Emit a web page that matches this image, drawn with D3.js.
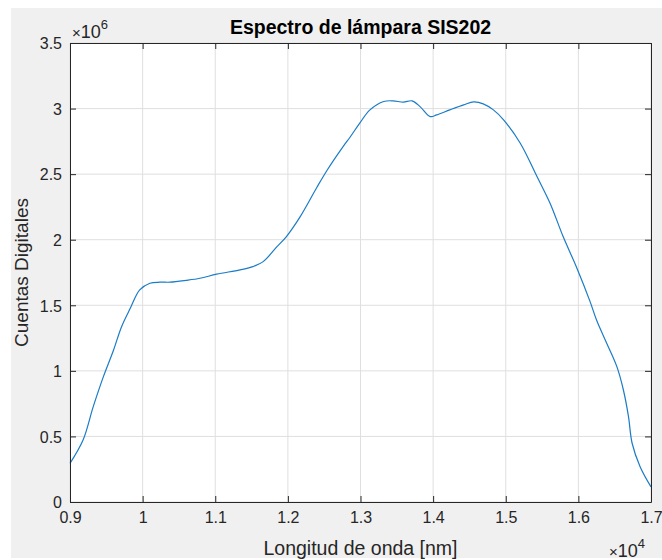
<!DOCTYPE html>
<html>
<head>
<meta charset="utf-8">
<script src="https://cdn.jsdelivr.net/npm/d3@7"></script>
<style>
  body { margin: 0; background: #fff; }
  text { font-family: "Liberation Sans", Arial, sans-serif; }
</style>
</head>
<body>
<svg id="chart" width="662" height="560"></svg>
<script>
// longitud de onda (nm) y cuentas
var wavelength = [9000, 9180, 9320, 9460, 9600, 9710, 9830, 9960, 10100, 10240, 10380, 10600, 10790, 11020,
  11340, 11520, 11660, 11850, 11980, 12170, 12400, 12540, 12760, 12860, 12990, 13130, 13320, 13450,
  13590, 13710, 13820, 13960, 14050, 14230, 14420, 14560, 14690, 14830, 14970, 15200, 15430, 15610,
  15790, 15980, 16160, 16250, 16390, 16530, 16620, 16690, 16740, 16850, 17000];
var counts = [295000, 473000, 727000, 956000, 1159000, 1337000, 1477000, 1617000, 1668000, 1676000, 1676000,
  1690000, 1706000, 1737000, 1770000, 1795000, 1833000, 1947000, 2024000, 2176000, 2400000, 2530000,
  2710000, 2785000, 2889000, 2990000, 3054000, 3059000, 3049000, 3059000, 3015000, 2939000, 2952000,
  2990000, 3028000, 3051000, 3036000, 2990000, 2914000, 2736000, 2482000, 2278000, 2024000, 1783000,
  1530000, 1388000, 1211000, 1032000, 854000, 651000, 448000, 269000, 115000];
var xTicks = [9000, 10000, 11000, 12000, 13000, 14000, 15000, 16000, 17000];
var yTicks = [0, 500000, 1000000, 1500000, 2000000, 2500000, 3000000, 3500000];

var svg = d3.select("#chart"),
    margin = {top: 43, right: 11, bottom: 58, left: 70},
    width = 662 - margin.left - margin.right,
    height = 560 - margin.top - margin.bottom;

// fondo gris de la figura
svg.append("rect").attr("x", 11).attr("y", 8).attr("width", 651).attr("height", 550).attr("fill", "#f0f0f0");

var x = d3.scaleLinear().domain([9000, 17000]).range([0, width]),
    y = d3.scaleLinear().domain([0, 3500000]).range([height, 0]);

var g = svg.append("g").attr("transform", "translate(" + margin.left + "," + margin.top + ")");

g.append("rect").attr("width", width).attr("height", height).attr("fill", "#fff");

// grid
g.append("g").selectAll("line").data(xTicks).enter().append("line")
  .attr("x1", function(d) { return x(d); }).attr("x2", function(d) { return x(d); })
  .attr("y1", 0).attr("y2", height).attr("stroke", "#dfdfdf");
g.append("g").selectAll("line").data(yTicks).enter().append("line")
  .attr("y1", function(d) { return y(d); }).attr("y2", function(d) { return y(d); })
  .attr("x1", 0).attr("x2", width).attr("stroke", "#dfdfdf");

var data = wavelength.map(function(w, i) { return {w: w, c: counts[i]}; });

var line = d3.line()
  .x(function(d) { return x(d.w); })
  .y(function(d) { return y(d.c); })
  .curve(d3.curveCatmullRom.alpha(0.5));

g.append("path").datum(data)
  .attr("fill", "none").attr("stroke", "#1a7cc6").attr("stroke-width", 1.2)
  .attr("d", line);

// ejes
var axisColor = "#262626";
var xa = g.append("g").attr("transform", "translate(0," + height + ")")
  .call(d3.axisBottom(x).tickValues(xTicks).tickSizeInner(-6).tickSizeOuter(0).tickPadding(14)
    .tickFormat(function(d) { return d3.format("")(+(d / 10000).toFixed(1)); }));
var ya = g.append("g")
  .call(d3.axisLeft(y).tickValues(yTicks).tickSizeInner(-6).tickSizeOuter(0).tickPadding(14)
    .tickFormat(function(d) { return d3.format("")(+(d / 1000000).toFixed(1)); }));
var xt = g.append("g")
  .call(d3.axisTop(x).tickValues(xTicks).tickSizeInner(-6).tickSizeOuter(0).tickFormat(""));
var yr = g.append("g").attr("transform", "translate(" + width + ",0)")
  .call(d3.axisRight(y).tickValues(yTicks).tickSizeInner(-6).tickSizeOuter(0).tickFormat(""));

[xa, ya, xt, yr].forEach(function(a) {
  a.selectAll("path, line").attr("stroke", axisColor);
  a.selectAll("text").attr("fill", axisColor).style("font-size", "16px")
    .style("font-family", "'Liberation Sans', Arial, sans-serif");
});
ya.selectAll("text").attr("dy", "0.36em").attr("x", -8);
xa.selectAll("text").attr("dy", "0.71em").attr("y", 10);

// multiplicadores
var m6 = svg.append("text").attr("x", 72).attr("y", 38).attr("fill", axisColor).style("font-size", "18px");
m6.append("tspan").style("font-size", "15px").text("\u00d7");
m6.append("tspan").text("10");
m6.append("tspan").attr("dy", -9).style("font-size", "13px").text("6");

var m4 = svg.append("text").attr("x", 609).attr("y", 557).attr("fill", axisColor).style("font-size", "18px");
m4.append("tspan").style("font-size", "15px").text("\u00d7");
m4.append("tspan").text("10");
m4.append("tspan").attr("dy", -9).style("font-size", "13px").text("4");

// titulo y etiquetas
svg.append("text").attr("x", margin.left + width / 2).attr("y", 34)
  .attr("text-anchor", "middle").style("font-size", "19.5px").style("font-weight", "bold")
  .attr("fill", "#000").text("Espectro de l\u00e1mpara SIS202");

svg.append("text").attr("x", margin.left + width / 2).attr("y", 555)
  .attr("text-anchor", "middle").style("font-size", "19.5px").attr("fill", axisColor)
  .text("Longitud de onda [nm]");

svg.append("text").attr("transform", "translate(28," + (margin.top + height / 2) + ") rotate(-90)")
  .attr("text-anchor", "middle").style("font-size", "19px").attr("fill", axisColor)
  .text("Cuentas Digitales");
</script>
</body>
</html>
